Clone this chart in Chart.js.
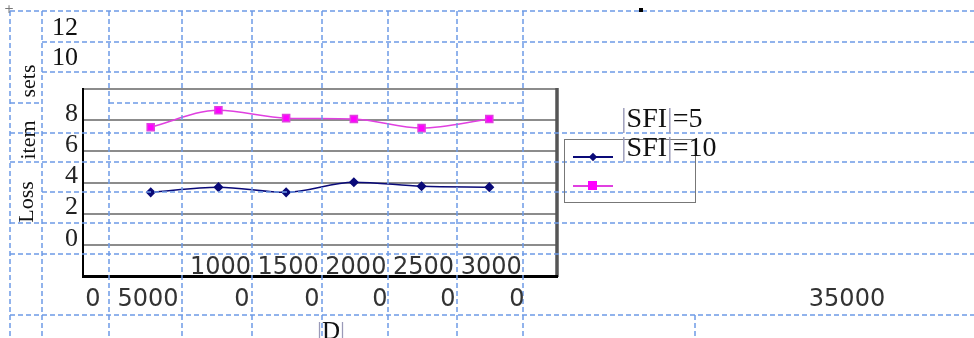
<!DOCTYPE html>
<html>
<head>
<meta charset="utf-8">
<script src="https://cdn.jsdelivr.net/npm/chart.js@4.4.1/dist/chart.umd.min.js"></script>
<style>
  html, body { margin: 0; padding: 0; background: #fff; }
  #wrap { position: relative; width: 974px; height: 338px; overflow: hidden; }
  #chart { position: absolute; left: 0; top: 0; }
  .lbl { position: absolute; white-space: nowrap; color: #111; }
  .serif { font-family: 'Liberation Serif', 'Times New Roman', serif; }
  .sans { font-family: 'DejaVu Sans', Verdana, sans-serif; }
  .bar { color: #9a9ab8; }
  .rot { transform: translate(-50%, -50%) rotate(-90deg); }
  .legend-box { position: absolute; left: 564px; top: 139px; width: 130px; height: 62px; border: 1.5px solid #777; }
  .sample { position: absolute; height: 2px; width: 40px; }
  .mark { position: absolute; }
</style>
</head>
<body>
<div id="wrap">
  <canvas id="chart" width="974" height="338"></canvas>
  <div id="overlay"></div>
</div>
<script>
// |D| values and loss per series
const dValues = [500, 1000, 1500, 2000, 2500, 3000];
const lossSfi5 = [3.37, 3.7, 3.37, 4.02, 3.76, 3.7];
const lossSfi10 = [7.55, 8.64, 8.13, 8.07, 7.49, 8.07];
const seriesNames = ['|SFI|=5', '|SFI|=10'];

// tick labels as they appear
const yTickLabels = ['0', '2', '4', '6', '8'];
const xTickLabels = ['1000', '1500', '2000', '2500', '3000'];
const strayYLabels = ['12', '10'];
const strayXLabels = ['0', '5000', '0', '0', '0', '0', '0', '35000'];
const axisTitleParts = ['sets', 'item', 'Loss'];
const xTitle = 'D';

const NAVY = '#0a0a78';
const MAGENTA = '#ff00ff';
const MAGENTA_LINE = '#e040e0';
const GRID_BLUE = '#6d9be6';

// dashed table rules from the page behind the chart
const H_RULES = [[11, 10, 974], [42, 42, 974], [72, 42, 974], [103, 10, 42], [103, 109, 523],
  [133, 10, 974], [162, 10, 974], [192, 42, 974], [223, 10, 974], [254, 10, 974], [315, 10, 974]];
const V_RULES = [[10, 11, 338], [42, 11, 338], [109, 11, 338], [182, 11, 338], [252, 11, 338],
  [322, 11, 338], [388, 11, 338], [457, 11, 338], [523, 11, 338], [695, 315, 338]];

const tableRules = {
  id: 'tableRules',
  afterDraw(chart) {
    const ctx = chart.ctx;
    ctx.save();
    ctx.strokeStyle = GRID_BLUE;
    ctx.lineWidth = 1.5;
    ctx.setLineDash([5, 3]);
    H_RULES.forEach(([y, x0, x1]) => {
      ctx.beginPath(); ctx.moveTo(x0, y); ctx.lineTo(x1, y); ctx.stroke();
    });
    V_RULES.forEach(([x, y0, y1]) => {
      ctx.beginPath(); ctx.moveTo(x, y0); ctx.lineTo(x, y1); ctx.stroke();
    });
    ctx.restore();
  }
};

const rightFrame = {
  id: 'rightFrame',
  beforeDatasetsDraw(chart) {
    const { ctx, chartArea } = chart;
    ctx.save();
    ctx.strokeStyle = '#555';
    ctx.lineWidth = 3.5;
    ctx.beginPath();
    ctx.moveTo(chartArea.right, chartArea.top - 1);
    ctx.lineTo(chartArea.right, chartArea.bottom + 1);
    ctx.stroke();
    ctx.restore();
  }
};

const toPoints = (ys) => dValues.map((x, i) => ({ x, y: ys[i] }));

new Chart(document.getElementById('chart'), {
  type: 'line',
  data: {
    datasets: [
      {
        label: seriesNames[0],
        data: toPoints(lossSfi5),
        borderColor: NAVY,
        backgroundColor: NAVY,
        borderWidth: 1.5,
        pointStyle: 'rectRot',
        pointRadius: 4,
        cubicInterpolationMode: 'monotone'
      },
      {
        label: seriesNames[1],
        data: toPoints(lossSfi10),
        borderColor: MAGENTA_LINE,
        backgroundColor: MAGENTA,
        borderWidth: 1.5,
        pointStyle: 'rect',
        pointRadius: 5,
        cubicInterpolationMode: 'monotone'
      }
    ]
  },
  options: {
    responsive: false,
    animation: false,
    devicePixelRatio: 1,
    layout: { padding: { top: 89, right: 417, bottom: 0, left: 0 } },
    plugins: { legend: { display: false }, tooltip: { enabled: false } },
    scales: {
      x: {
        type: 'linear',
        min: 0,
        max: 3500,
        afterFit: (s) => { s.height = 62; },
        grid: { display: false, drawTicks: false },
        border: { display: true, color: '#000', width: 3, z: 1 },
        ticks: {
          stepSize: 500,
          mirror: true,
          padding: -6,
          labelOffset: 2,
          maxRotation: 0,
          autoSkip: false,
          color: '#333',
          font: { family: 'DejaVu Sans', size: 24 },
          callback: (v) => xTickLabels.includes(String(v)) ? String(v) : ''
        }
      },
      y: {
        min: -2,
        max: 10,
        afterFit: (s) => { s.width = 83; },
        grid: { color: '#8c8c8c', lineWidth: 2, drawTicks: false },
        border: { display: true, color: '#000', width: 2 },
        ticks: {
          stepSize: 2,
          autoSkip: false,
          padding: 5,
          labelOffset: -6,
          color: '#222',
          font: { family: 'Liberation Serif', size: 26 },
          callback: (v) => yTickLabels.includes(String(v)) ? String(v) : ''
        }
      }
    }
  },
  plugins: [tableRules, rightFrame]
});

// stray text from the page layout
const overlay = document.getElementById('overlay');
function addText(html, cls, left, top, size, extra) {
  const d = document.createElement('div');
  d.className = 'lbl ' + cls;
  d.innerHTML = html;
  d.style.left = left + 'px';
  d.style.top = top + 'px';
  d.style.fontSize = size + 'px';
  d.style.lineHeight = size + 'px';
  if (extra) Object.assign(d.style, extra);
  overlay.appendChild(d);
  return d;
}
const bars = (s) => s.replace(/\|/g, '<span class="bar">|</span>');

// 12 and 10 above the plot, right aligned with the y ticks
[27, 57].forEach((cy, i) => {
  addText(strayYLabels[i], 'serif', 0, cy - 13, 26, { width: '78px', textAlign: 'right' });
});

// rotated y title pieces
[[28, 81], [28, 140], [26, 202]].forEach(([cx, cy], i) => {
  addText(axisTitleParts[i], 'serif rot', cx, cy, 22);
});

// second row of x labels (right aligned in their cells)
const strayXCenters = [93, 148, 242, 312, 380, 448, 517, 847];
strayXLabels.forEach((t, i) => {
  const d = addText(t, 'sans', strayXCenters[i], 286, 24, { color: '#333' });
  d.style.transform = 'translateX(-50%)';
});

// x title
addText(bars('|' + xTitle + '|'), 'serif', 317, 318, 25);

// legend
const legendBox = document.createElement('div');
legendBox.className = 'legend-box';
overlay.appendChild(legendBox);
[[NAVY, NAVY, 157, 'diamond'], [MAGENTA_LINE, MAGENTA, 186, 'square']].forEach(([lc, mc, y, shape]) => {
  const s = document.createElement('div');
  s.className = 'sample';
  s.style.left = '573px';
  s.style.top = (y - 1) + 'px';
  s.style.background = lc;
  overlay.appendChild(s);
  const m = document.createElement('div');
  m.className = 'mark';
  m.style.background = mc;
  if (shape === 'diamond') {
    Object.assign(m.style, { width: '6px', height: '6px', left: '590px', top: (y - 3) + 'px', transform: 'rotate(45deg)' });
  } else {
    Object.assign(m.style, { width: '9px', height: '9px', left: '588px', top: (y - 5) + 'px' });
  }
  overlay.appendChild(m);
});
addText(bars(seriesNames[0]), 'serif', 621, 104, 28);
addText(bars(seriesNames[1]), 'serif', 621, 133, 28);

// small marks on the page
addText('', 'sans', 639, 8, 3, { width: '4px', height: '4px', background: '#000' });
addText('+', 'sans', 4, 3, 12, { color: '#777' });
</script>
</body>
</html>
